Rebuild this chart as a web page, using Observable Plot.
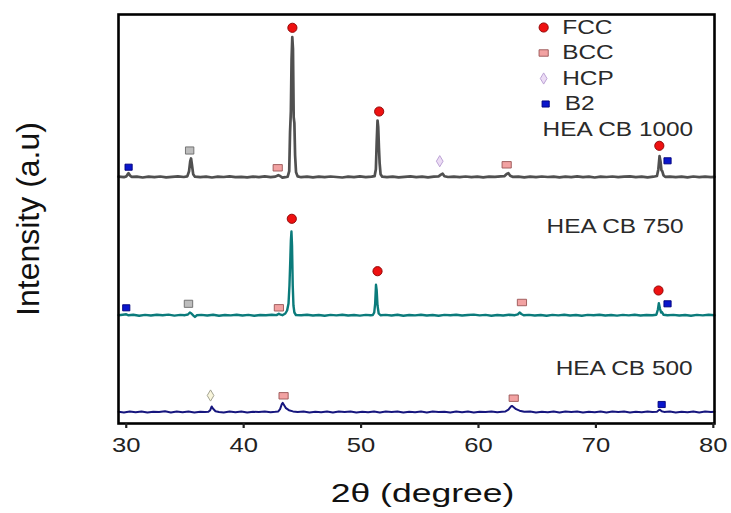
<!DOCTYPE html>
<html>
<head>
<meta charset="utf-8">
<script src="https://cdn.jsdelivr.net/npm/d3@7"></script>
<script src="https://cdn.jsdelivr.net/npm/@observablehq/plot@0.6"></script>
<style>
  html, body { margin: 0; padding: 0; background: #fff; }
  #chart { width: 731px; height: 513px; }
</style>
</head>
<body>
<div id="chart"></div>
<script>
// XRD patterns of the HEA CB samples, intensity (counts above each pattern's own baseline)
const cb1000 = [
  [29.35,0.5],[29.8,0],[30.0,0.8],[30.1,2.5],[30.2,4],[30.3,2],[30.45,0.3],[30.9,0.6],[31.4,-0.3],[31.9,0.5],
  [32.4,0],[32.9,0.7],[33.4,-0.2],[33.9,0.4],[34.4,0.9],[34.9,0.2],[35.2,0.8],[35.35,6],[35.45,16],[35.52,18.7],
  [35.6,12],[35.7,3],[35.85,0.5],[36.3,0],[36.8,0.6],[37.3,-0.3],[37.8,0.5],[38.3,0.2],[38.8,0.9],[39.3,0],
  [39.8,0.4],[40.3,-0.2],[40.8,0.6],[41.3,0.1],[41.8,0.8],[42.3,0],[42.7,0.6],[42.95,2],[43.1,1.2],[43.3,-0.5],
  [43.55,0],[43.75,0.5],[43.88,6],[43.95,45],[44.02,66],[44.08,118],[44.14,140],[44.2,128],[44.26,60],[44.32,54],
  [44.38,22],[44.46,5],[44.6,0.8],[44.9,0],[45.4,0.5],[45.9,-0.2],[46.4,0.6],[46.9,0],[47.4,0.7],[47.9,0.2],
  [48.4,-0.3],[48.9,0.5],[49.4,0],[49.9,0.8],[50.4,0.1],[50.9,0.5],[51.15,1],[51.26,8],[51.33,35],[51.4,56.7],
  [51.46,50],[51.52,30],[51.58,14],[51.66,3],[51.8,0.5],[52.2,0],[52.7,0.6],[53.2,-0.2],[53.7,0.4],[54.2,0.9],
  [54.7,0],[55.2,0.6],[55.7,-0.1],[56.2,0.5],[56.6,0.8],[56.8,2.5],[56.95,3.5],[57.1,1],[57.4,0.2],[57.9,0.6],
  [58.4,0],[58.9,0.7],[59.4,0.1],[59.9,0.5],[60.4,-0.2],[60.9,0.6],[61.4,0.3],[61.9,0.8],[62.2,1],[62.4,3.2],
  [62.55,4],[62.7,1.5],[62.9,0.4],[63.4,0.6],[63.9,-0.2],[64.4,0.5],[64.9,0],[65.4,0.7],[65.9,0.2],[66.4,0.5],
  [66.9,-0.2],[67.4,0.6],[67.9,0.1],[68.4,0.8],[68.9,0],[69.4,0.5],[69.9,-0.3],[70.4,0.6],[70.9,0.2],[71.4,0.7],
  [71.9,0],[72.4,0.5],[72.9,0.9],[73.4,0.1],[73.9,0.6],[74.4,-0.2],[74.9,0.5],[75.2,1.2],[75.32,8],[75.42,21],
  [75.5,16],[75.58,7],[75.65,6],[75.75,2],[75.9,0.3],[76.3,0.6],[76.8,0],[77.3,0.5],[77.8,-0.2],[78.3,0.7],
  [78.8,0.1],[79.3,0.6],[79.8,0],[80.1,0.4]
];

const cb750 = [
  [29.35,0.3],[29.7,0.8],[30.0,1.2],[30.2,0.2],[30.6,0.7],[31.1,-0.2],[31.6,0.6],[32.1,0],[32.6,0.8],[33.1,0.2],
  [33.6,0.9],[34.1,-0.1],[34.6,0.6],[35.0,0.3],[35.25,1],[35.42,3],[35.55,2],[35.7,0.2],[35.85,-1.5],[36.0,0.2],
  [36.4,0.6],[36.9,0],[37.4,0.7],[37.9,-0.2],[38.4,0.5],[38.9,0.1],[39.4,0.8],[39.9,0],[40.4,0.6],[40.9,-0.2],
  [41.4,0.5],[41.9,0.2],[42.4,0.7],[42.8,0.4],[43.0,1.8],[43.15,0.8],[43.3,0.3],[43.55,2],[43.7,5],[43.82,12],
  [43.9,30],[43.97,55],[44.02,75],[44.07,84],[44.12,70],[44.18,30],[44.24,10],[44.32,3],[44.45,0.5],[44.9,0.2],
  [45.4,0.7],[45.9,0],[46.4,0.5],[46.9,-0.2],[47.4,0.6],[47.9,0.1],[48.4,0.8],[48.9,0],[49.4,0.5],[49.9,-0.1],
  [50.4,0.6],[50.8,0.2],[51.0,0.5],[51.12,3],[51.2,12],[51.27,30.7],[51.33,25],[51.4,10],[51.5,2],[51.65,0.3],
  [52.1,0.6],[52.6,0],[53.1,0.7],[53.6,-0.2],[54.1,0.5],[54.6,0.1],[55.1,0.8],[55.6,0],[56.1,0.5],[56.6,-0.2],
  [57.1,0.6],[57.6,0.2],[58.1,0.7],[58.6,0],[59.1,0.5],[59.6,0.9],[60.1,0.1],[60.6,0.6],[61.1,-0.2],[61.6,0.5],
  [62.1,0],[62.6,0.7],[63.1,0.3],[63.35,1.2],[63.5,3],[63.65,1.5],[63.85,0.2],[64.3,0.6],[64.8,0],[65.3,0.5],
  [65.8,-0.2],[66.3,0.6],[66.8,0.1],[67.3,0.7],[67.8,0],[68.3,0.5],[68.8,-0.2],[69.3,0.6],[69.8,0.2],[70.3,0.8],
  [70.8,0],[71.3,0.5],[71.8,-0.1],[72.3,0.6],[72.8,0.1],[73.3,0.7],[73.8,0],[74.3,0.5],[74.8,0.2],[75.15,0.8],
  [75.28,6],[75.36,12.3],[75.45,7],[75.55,3],[75.62,3.5],[75.75,0.8],[76.1,0.2],[76.6,0.6],[77.1,0],[77.6,0.5],
  [78.1,-0.2],[78.6,0.6],[79.1,0.1],[79.6,0.7],[80.1,0.2]
];

const cb500 = [
  [29.35,0.4],[29.8,-0.3],[30.3,0.6],[30.8,0],[31.3,0.8],[31.8,-0.2],[32.3,0.5],[32.8,0.1],[33.3,0.9],[33.8,-0.3],
  [34.3,0.6],[34.8,0],[35.3,0.7],[35.8,-0.2],[36.3,0.5],[36.7,0.1],[37.0,0.4],[37.15,2],[37.28,5.7],[37.4,3.5],
  [37.6,1],[37.9,0.3],[38.3,-0.2],[38.8,0.6],[39.3,0],[39.8,0.7],[40.3,-0.3],[40.8,0.5],[41.3,0.1],[41.8,0.8],
  [42.3,0],[42.7,0.4],[42.95,0.8],[43.1,3],[43.25,8],[43.33,9.3],[43.45,7],[43.6,4],[43.85,2],[44.2,0.8],
  [44.6,0.2],[45.1,0.6],[45.6,-0.2],[46.1,0.5],[46.6,0],[47.1,0.8],[47.6,-0.3],[48.1,0.6],[48.6,0.1],[49.1,0.7],
  [49.6,-0.2],[50.1,0.5],[50.6,0],[51.1,0.8],[51.6,-0.2],[52.1,0.6],[52.6,0.1],[53.1,0.7],[53.6,-0.3],[54.1,0.5],
  [54.6,0],[55.1,0.6],[55.6,-0.2],[56.1,0.7],[56.6,0.1],[57.1,0.5],[57.6,-0.2],[58.1,0.6],[58.6,0],[59.1,0.8],
  [59.6,-0.2],[60.1,0.5],[60.6,0.1],[61.1,0.7],[61.6,-0.1],[62.0,0.4],[62.3,0.8],[62.55,2.5],[62.75,5.5],[62.85,6.3],
  [63.0,5],[63.2,3],[63.5,1.5],[63.9,0.5],[64.4,0.7],[64.9,-0.2],[65.4,0.5],[65.9,0],[66.4,0.8],[66.9,-0.2],
  [67.4,0.6],[67.9,0.1],[68.4,0.7],[68.9,-0.3],[69.4,0.5],[69.9,0],[70.4,0.8],[70.9,-0.2],[71.4,0.6],[71.9,0.1],
  [72.4,0.7],[72.9,-0.2],[73.4,0.5],[73.9,0],[74.4,0.8],[74.8,0.1],[75.2,0.5],[75.35,2],[75.45,2.5],[75.6,1],
  [75.8,0.3],[76.3,0.7],[76.8,-0.2],[77.3,0.5],[77.8,0],[78.3,0.8],[78.8,-0.2],[79.3,0.6],[79.8,0.1],[80.1,0.5]
];

const sampleNames = ["HEA CB 1000", "HEA CB 750", "HEA CB 500"];
const samplePatterns = [cb1000, cb750, cb500];
const sampleOffsets = [235, 96.7, 0];          // vertical stacking of the patterns
const sampleColors = ["#505050", "#0b7b7b", "#16167e"];
const sampleWidths = [2.7, 2.4, 2];

// Phase identification markers: [phase, 2θ, height above the pattern baseline]
const marks1000 = [
  ["B2",30.2,10],["Other",35.4,26.7],["BCC",42.9,9.4],["FCC",44.15,149.4],["FCC",51.54,65.7],
  ["HCP",56.7,16],["BCC",62.4,12.4],["FCC",75.4,31.4],["B2",76.1,16.4]
];
const marks750 = [
  ["B2",30.0,7.7],["Other",35.3,11.7],["BCC",43.0,7.7],["FCC",44.1,96.7],["FCC",51.4,44.3],
  ["BCC",63.7,13],["FCC",75.33,25],["B2",76.1,11.7]
];
const marks500 = [
  ["HCP pale",37.18,16.7],["BCC",43.4,16.4],["BCC",63.0,14],["B2",75.6,7.7]
];
const sampleMarks = [marks1000, marks750, marks500];

const legendPhases = ["FCC", "BCC", "HCP", "B2"];
const xTicks = [30, 40, 50, 60, 70, 80];

// Marker shapes: flat rectangles, small squares and tall diamonds
const rectSymbol = (aspect) => ({
  draw(ctx, size) {
    const r = Math.sqrt(size / Math.PI);
    const w = r, h = r * aspect;
    ctx.moveTo(-w, -h); ctx.lineTo(w, -h); ctx.lineTo(w, h); ctx.lineTo(-w, h); ctx.closePath();
  }
});
const diamondSymbol = {
  draw(ctx, size) {
    const r = Math.sqrt(size / Math.PI);
    const w = r * 0.6;
    ctx.moveTo(0, -r); ctx.lineTo(w, 0); ctx.lineTo(0, r); ctx.lineTo(-w, 0); ctx.closePath();
  }
};
const phaseStyle = {
  "FCC":      {symbol: "circle",            r: 4.6, fill: "#ee1111", stroke: "#8a0000"},
  "BCC":      {symbol: rectSymbol(0.7),     r: 4.6, fill: "#f2a2a2", stroke: "#9a5555"},
  "Other":    {symbol: rectSymbol(0.85),    r: 4.2, fill: "#bdbdbd", stroke: "#6a6a6a"},
  "HCP":      {symbol: diamondSymbol,       r: 5.6, fill: "#ecdcf5", stroke: "#b59bd0"},
  "HCP pale": {symbol: diamondSymbol,       r: 5.6, fill: "#f8f5dc", stroke: "#9a9a88"},
  "B2":       {symbol: rectSymbol(0.85),    r: 3.6, fill: "#0a16cc", stroke: "#00007a"}
};

// Tidy tables for Plot
const lineRows = samplePatterns.flatMap((pts, i) =>
  pts.map(([t, v]) => ({sample: sampleNames[i], theta: t, intensity: v + sampleOffsets[i]})));
const markerRows = sampleMarks.flatMap((list, i) =>
  list.map(([phase, t, h]) => ({phase, theta: t, intensity: h + sampleOffsets[i]})));

// Legend block and pattern names, placed in data coordinates inside the frame
const legendRows = legendPhases.map((p, i) => ({phase: p, theta: p === "B2" ? 65.72 : 65.55, textTheta: p === "B2" ? 67.34 : 67.13, intensity: 384.7 - 25.5 * i}));
const nameRows = [
  {name: sampleNames[0], theta: 65.46, intensity: 283},
  {name: sampleNames[1], theta: 65.8, intensity: 185.7},
  {name: sampleNames[2], theta: 66.57, intensity: 43.7}
];

const font = "'Liberation Sans', Arial, Helvetica, sans-serif";

const dotMarks = (rows, keyOf) => Object.keys(phaseStyle).map(k => {
  const s = phaseStyle[k];
  return Plot.dot(rows.filter(d => keyOf(d) === k), {
    x: "theta", y: "intensity", symbol: s.symbol, r: s.r,
    fill: s.fill, stroke: s.stroke, strokeWidth: 0.9
  });
});

const chart = Plot.plot({
  width: 731,
  height: 513,
  marginLeft: 118,
  marginRight: 17,
  marginTop: 14,
  marginBottom: 90,
  style: {fontFamily: font, background: "white", color: "#222"},
  x: {domain: [29.34, 80.1], label: null},
  y: {domain: [-11.3, 397.7], axis: null},
  marks: [
    ...sampleNames.map((name, i) => Plot.line(lineRows.filter(d => d.sample === name), {
      x: "theta", y: "intensity", stroke: sampleColors[i], strokeWidth: sampleWidths[i],
      strokeLinejoin: "round"
    })),
    ...dotMarks(markerRows, d => d.phase),
    ...dotMarks(legendRows, d => d.phase),
    Plot.text(legendRows, {x: "textTheta", y: "intensity", text: "phase", textAnchor: "start", fontSize: 20, fill: "#2a2a2a"}),
    Plot.text(nameRows, {x: "theta", y: "intensity", text: "name", textAnchor: "start", fontSize: 20, fill: "#2a2a2a"}),
    Plot.frame({stroke: "#000", strokeWidth: 2.6}),
    Plot.axisX({ticks: xTicks, tickSize: 5, tickPadding: 9, fontSize: 21, strokeWidth: 2.2, label: null, tickFormat: d => String(d)}),
    Plot.text(["2θ (degree)"], {frameAnchor: "bottom", dx: 6, dy: 78, fontSize: 25, fill: "#111"}),
    Plot.text(["Intensity (a.u)"], {frameAnchor: "left", textAnchor: "middle", dx: -90, rotate: -90, fontSize: 32, fill: "#111"})
  ]
});

document.getElementById("chart").append(chart);

// Widen the horizontal labels slightly, as the figure's lettering is set wide
const widen = {"2θ (degree)": 1.42, "Intensity (a.u)": 1};
chart.querySelectorAll("text").forEach(t => {
  const k = widen[t.textContent] ?? 1.22;
  if (k === 1) return;
  const w = t.getComputedTextLength();
  t.setAttribute("textLength", (w * k).toFixed(1));
  t.setAttribute("lengthAdjust", "spacingAndGlyphs");
});
</script>
</body>
</html>
